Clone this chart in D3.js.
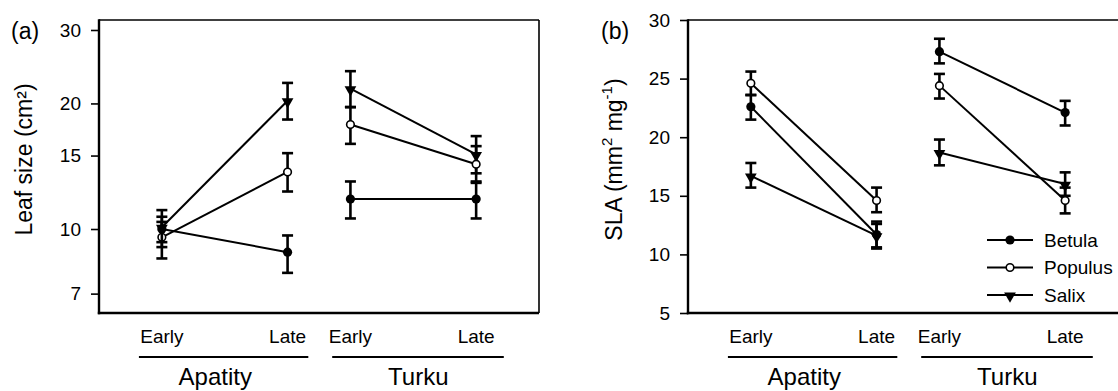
<!DOCTYPE html>
<html>
<head>
<meta charset="utf-8">
<script src="https://cdn.jsdelivr.net/npm/d3@7"></script>
<style>
  body { margin: 0; background: #fff; }
  svg { display: block; font-family: "Liberation Sans", Arial, sans-serif; }
</style>
</head>
<body>
<svg id="chart" width="1118" height="391"></svg>
<script>
const sites = ["Apatity", "Turku"];
const times = ["Early", "Late"];
const species = ["Betula", "Populus", "Salix"];

// values in order: Apatity Early, Apatity Late, Turku Early, Turku Late
// leaf size (cm2): mean, lower and upper end of error bar
const leafBetula = [10.0, 8.8, 11.8, 11.8];
const leafBetulaLo = [9.3, 7.85, 10.6, 10.6];
const leafBetulaHi = [10.7, 9.65, 13.0, 13.0];
const leafPopulus = [9.55, 13.7, 17.8, 14.3];
const leafPopulusLo = [8.5, 12.3, 16.0, 12.9];
const leafPopulusHi = [10.4, 15.2, 19.6, 15.8];
const leafSalix = [10.1, 20.3, 21.7, 15.1];
const leafSalixLo = [9.05, 18.3, 19.6, 13.6];
const leafSalixHi = [11.1, 22.4, 23.9, 16.7];

// SLA (mm2 mg-1)
const slaBetula = [22.6, 11.7, 27.3, 22.1];
const slaBetulaLo = [21.5, 10.6, 26.3, 21.0];
const slaBetulaHi = [23.6, 12.8, 28.4, 23.1];
const slaPopulus = [24.6, 14.6, 24.4, 14.6];
const slaPopulusLo = [23.6, 13.6, 23.3, 13.5];
const slaPopulusHi = [25.6, 15.7, 25.4, 15.7];
const slaSalix = [16.7, 11.6, 18.7, 16.0];
const slaSalixLo = [15.7, 10.5, 17.6, 15.0];
const slaSalixHi = [17.8, 12.6, 19.8, 17.0];

const leafTicks = [7, 10, 15, 20, 30];
const slaTicks = [5, 10, 15, 20, 25, 30];

const svg = d3.select("#chart");
const plotW = 440, plotH = 293;

// slot on the x axis: each site takes Early/Late with a gap between sites
function slot(i) {
  const s = Math.floor(i / times.length), t = i % times.length;
  return 1 + s * 3 + t * 2;
}

function buildPanel(left, top, opts) {
  const g = svg.append("g").attr("transform", `translate(${left},${top})`);
  const x = d3.scaleLinear().domain([0, 7]).range([0, plotW]);
  const y = opts.y;

  // y axis
  const ax = g.append("g")
    .call(d3.axisLeft(y).tickValues(opts.ticks).tickSize(8).tickPadding(10)
      .tickFormat(d3.format("d")));
  ax.select(".domain").remove();
  ax.selectAll(".tick line").attr("stroke", "#000").attr("stroke-width", 1.6);
  ax.selectAll(".tick text").attr("font-size", 19).attr("fill", "#000")
    .attr("font-family", "Liberation Sans, Arial, sans-serif");

  // frame
  g.append("line").attr("x1", 0).attr("x2", plotW).attr("y1", 0).attr("y2", 0)
    .attr("stroke", "#000").attr("stroke-width", 1.6);
  g.append("line").attr("x1", plotW).attr("x2", plotW).attr("y1", 0).attr("y2", plotH)
    .attr("stroke", "#000").attr("stroke-width", 1.6);
  g.append("line").attr("x1", 0).attr("x2", 0).attr("y1", -0.8).attr("y2", plotH + 1.2)
    .attr("stroke", "#000").attr("stroke-width", 2.4);
  g.append("line").attr("x1", -1.2).attr("x2", plotW).attr("y1", plotH).attr("y2", plotH)
    .attr("stroke", "#000").attr("stroke-width", 2.6);

  // series: lines, error bars, markers
  opts.series.slice().reverse().forEach(s => {
    const pts = s.mean.map((v, i) => ({ x: x(slot(i)), y: y(v), lo: y(s.lo[i]), hi: y(s.hi[i]), site: Math.floor(i / 2) }));
    sites.forEach((site, k) => {
      const seg = pts.filter(p => p.site === k);
      g.append("path").datum(seg)
        .attr("d", d3.line().x(p => p.x).y(p => p.y))
        .attr("fill", "none").attr("stroke", "#000").attr("stroke-width", 2);
    });
    const eb = g.append("g").attr("stroke", "#000").attr("stroke-width", 2.6);
    pts.forEach(p => {
      eb.append("line").attr("x1", p.x).attr("x2", p.x).attr("y1", p.lo).attr("y2", p.hi);
      eb.append("line").attr("x1", p.x - 5.5).attr("x2", p.x + 5.5).attr("y1", p.lo).attr("y2", p.lo);
      eb.append("line").attr("x1", p.x - 5.5).attr("x2", p.x + 5.5).attr("y1", p.hi).attr("y2", p.hi);
    });
    pts.forEach(p => drawMarker(g, s.name, p.x, p.y));
  });

  // x labels
  const labels = g.append("g").attr("fill", "#000");
  d3.range(sites.length * times.length).forEach(i => {
    labels.append("text").attr("x", x(slot(i))).attr("y", 323)
      .attr("text-anchor", "middle").attr("font-size", 19)
      .text(times[i % times.length]);
  });
  const groupSpan = [[0.635, 3.33], [3.71, 6.44]];
  const groupText = [1.85, 5.08];
  sites.forEach((site, k) => {
    g.append("line").attr("x1", x(groupSpan[k][0])).attr("x2", x(groupSpan[k][1]))
      .attr("y1", 337).attr("y2", 337).attr("stroke", "#000").attr("stroke-width", 2);
    labels.append("text").attr("x", x(groupText[k])).attr("y", 365)
      .attr("text-anchor", "middle").attr("font-size", 24).text(site);
  });

  // panel letter
  g.append("text").attr("x", opts.letterX).attr("y", 19).attr("font-size", 23)
    .attr("fill", "#000").text(opts.letter);

  // y title
  const t = g.append("text")
    .attr("transform", `translate(${opts.titleX},${plotH / 2 - 7}) rotate(-90)`)
    .attr("text-anchor", "middle").attr("font-size", 23).attr("fill", "#000");
  opts.title(t);

  return { g, x, y };
}

function drawMarker(g, name, cx, cy) {
  if (name === "Betula") {
    g.append("circle").attr("cx", cx).attr("cy", cy).attr("r", 4.6).attr("fill", "#000");
  } else if (name === "Populus") {
    g.append("circle").attr("cx", cx).attr("cy", cy).attr("r", 3.8)
      .attr("fill", "#fff").attr("stroke", "#000").attr("stroke-width", 1.6);
  } else {
    g.append("path").attr("d", d3.symbol(d3.symbolTriangle, 60)())
      .attr("transform", `translate(${cx},${cy + 1}) rotate(180)`).attr("fill", "#000");
  }
}

const leafY = d3.scaleLog().domain([6.29, 31.7]).range([plotH, 0]);
const slaY = d3.scaleLinear().domain([5, 30]).range([plotH, 0]);

buildPanel(99, 20, {
  y: leafY, ticks: leafTicks, letter: "(a)", letterX: -88, titleX: -67,
  series: [
    { name: "Betula", mean: leafBetula, lo: leafBetulaLo, hi: leafBetulaHi },
    { name: "Populus", mean: leafPopulus, lo: leafPopulusLo, hi: leafPopulusHi },
    { name: "Salix", mean: leafSalix, lo: leafSalixLo, hi: leafSalixHi }
  ],
  title: t => t.text("Leaf size (cm²)")
});

const pb = buildPanel(688, 20, {
  y: slaY, ticks: slaTicks, letter: "(b)", letterX: -87, titleX: -66,
  series: [
    { name: "Betula", mean: slaBetula, lo: slaBetulaLo, hi: slaBetulaHi },
    { name: "Populus", mean: slaPopulus, lo: slaPopulusLo, hi: slaPopulusHi },
    { name: "Salix", mean: slaSalix, lo: slaSalixLo, hi: slaSalixHi }
  ],
  title: t => {
    t.append("tspan").text("SLA (mm");
    t.append("tspan").attr("font-size", 15).attr("dy", -10).text("2");
    t.append("tspan").attr("dy", 10).text(" mg");
    t.append("tspan").attr("font-size", 15).attr("dy", -10).text("-1");
    t.append("tspan").attr("dy", 10).text(")");
  }
});

// legend in panel (b)
const leg = pb.g.append("g").attr("transform", "translate(299,220)");
species.forEach((name, i) => {
  const row = leg.append("g").attr("transform", `translate(0,${i * 27.5})`);
  row.append("line").attr("x1", 0).attr("x2", 46).attr("y1", 0).attr("y2", 0)
    .attr("stroke", "#000").attr("stroke-width", 2);
  drawMarker(row, name, 23, 0);
  row.append("text").attr("x", 57).attr("y", 6.5).attr("font-size", 19)
    .attr("fill", "#000").text(name);
});
</script>
</body>
</html>
